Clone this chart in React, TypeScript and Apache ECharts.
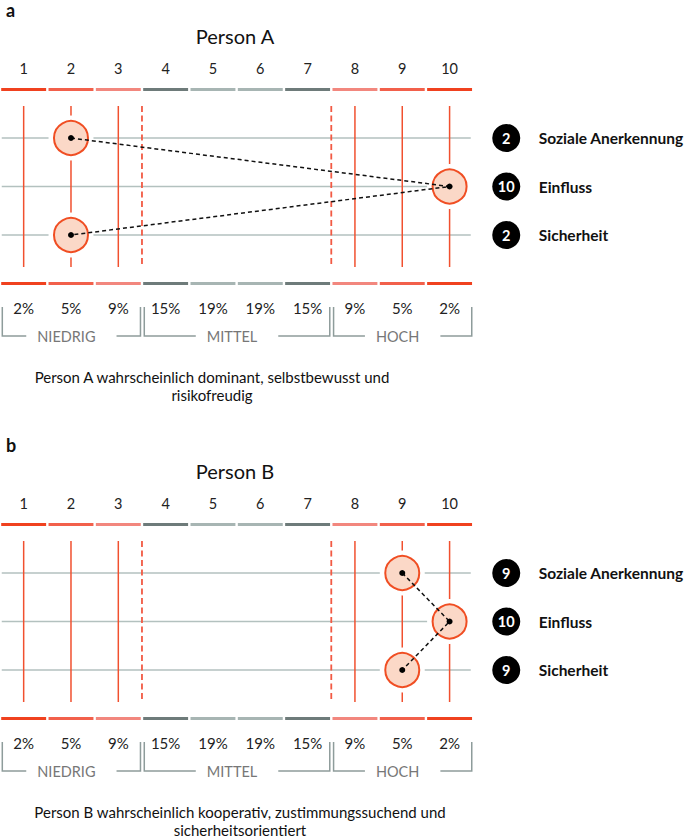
import React, { useEffect, useRef } from "react";
import * as echarts from "echarts";

// ---------- data ----------
const scaleLabels = ["1", "2", "3", "4", "5", "6", "7", "8", "9", "10"];
const shareLabels = ["2%", "5%", "9%", "15%", "19%", "19%", "15%", "9%", "5%", "2%"];
const traits = ["Soziale Anerkennung", "Einfluss", "Sicherheit"];
const personAScores = [2, 10, 2];
const personBScores = [9, 10, 9];
const bandNames = ["NIEDRIG", "MITTEL", "HOCH"];
const bandFrom = [1, 4, 8];
const bandTo = [3, 7, 10];
const linedColumns = [1, 2, 3, 8, 9, 10];
const titles = ["Person A", "Person B"];
const captions = [
  "Person A wahrscheinlich dominant, selbstbewusst und\nrisikofreudig",
  "Person B wahrscheinlich kooperativ, zustimmungssuchend und\nsicherheitsorientiert",
];
const panelLetters = ["a", "b"];

// ---------- styles ----------
const FONT = "Lato, 'Noto Sans', sans-serif";
const segmentPalette = [
  "#f0411f", "#f2604b", "#f2877e", "#6e7b7a", "#a7b5b3",
  "#a7b5b3", "#6e7b7a", "#f2877e", "#f2604b", "#f0411f",
];
const RED = "#f04e23";
const PANEL_DY = 435;

let measureCtx: CanvasRenderingContext2D | null = null;
function textWidth(t: string, font: string) {
  if (!measureCtx) measureCtx = document.createElement("canvas").getContext("2d");
  if (!measureCtx) return t.length * 7;
  measureCtx.font = font;
  return measureCtx.measureText(t).width;
}

function buildOption() {
  const grid: any[] = [];
  const xAxis: any[] = [];
  const yAxis: any[] = [];
  const series: any[] = [];
  const graphic: any[] = [];
  const scoresList = [personAScores, personBScores];

  [0, 1].forEach((p) => {
    grid.push({ left: -1.75, width: 475, top: 89.5 + p * PANEL_DY, height: 194 });
    xAxis.push({
      type: "category", gridIndex: p, data: scaleLabels, position: "top",
      axisLine: { show: false }, axisTick: { show: false }, splitLine: { show: false },
      axisLabel: { margin: 14, fontSize: 14.5, color: "#222", fontFamily: FONT },
    });
    xAxis.push({
      type: "category", gridIndex: p, data: shareLabels, position: "bottom",
      axisLine: { show: false }, axisTick: { show: false }, splitLine: { show: false },
      axisLabel: { margin: 16.5, fontSize: 15, color: "#222", fontFamily: FONT },
    });
    yAxis.push({ type: "value", gridIndex: p, min: -1, max: 3, inverse: true, show: false });

    const xi = p * 2;
    const yi = p;
    const scores = scoresList[p];
    const pts = scores.map((s, r) => [s - 1, r]);

    // colored segments top & bottom
    series.push({
      type: "custom", xAxisIndex: xi, yAxisIndex: yi, z: 1, silent: true,
      data: scaleLabels.map((_, i) => [i, 0]),
      renderItem: (params: any, api: any) => {
        const i = api.value(0);
        const top = api.coord([i, -1]);
        const bot = api.coord([i, 3]);
        const w = api.size([1, 0])[0];
        const c = segmentPalette[i];
        return {
          type: "group",
          children: [
            { type: "rect", shape: { x: top[0] - w / 2 + 1.2, y: top[1] - 1.5, width: w - 2.4, height: 3 }, style: { fill: c } },
            { type: "rect", shape: { x: bot[0] - w / 2 + 1.2, y: bot[1] - 1.5, width: w - 2.4, height: 3 }, style: { fill: c } },
          ],
        };
      },
    });

    // horizontal row lines
    series.push({
      type: "custom", xAxisIndex: xi, yAxisIndex: yi, z: 1, silent: true,
      data: traits.map((_, r) => [0, r]),
      renderItem: (params: any, api: any) => {
        const r = api.value(1);
        const w = api.size([1, 0])[0];
        const a = api.coord([0, r]);
        const b = api.coord([scaleLabels.length - 1, r]);
        return {
          type: "line",
          shape: { x1: a[0] - w / 2 + 1.75, y1: a[1], x2: b[0] + w / 2 - 2.5, y2: b[1] },
          style: { stroke: "#b3c1bf", lineWidth: 1.5 },
        };
      },
    });

    // vertical red lines
    series.push({
      type: "custom", xAxisIndex: xi, yAxisIndex: yi, z: 1, silent: true,
      data: linedColumns.map((c) => [c - 1, 0]),
      renderItem: (params: any, api: any) => {
        const i = api.value(0);
        const a = api.coord([i, -0.66]);
        const b = api.coord([i, 2.66]);
        return {
          type: "line",
          shape: { x1: a[0], y1: a[1], x2: b[0], y2: b[1] },
          style: { stroke: "#f1502f", lineWidth: 1.5 },
        };
      },
    });

    // dashed band boundaries
    series.push({
      type: "custom", xAxisIndex: xi, yAxisIndex: yi, z: 1, silent: true,
      data: bandTo.slice(0, -1).map((t) => [t - 1, 0]),
      renderItem: (params: any, api: any) => {
        const i = api.value(0);
        const a = api.coord([i, -0.66]);
        const a2 = api.coord([i + 1, -0.66]);
        const b = api.coord([i, 2.66]);
        const x = (a[0] + a2[0]) / 2;
        return {
          type: "line",
          shape: { x1: x, y1: a[1], x2: x, y2: b[1] },
          style: { stroke: "#f25a44", lineWidth: 1.8, lineDash: [6, 3.5] },
        };
      },
    });

    // white halo
    series.push({
      type: "scatter", xAxisIndex: xi, yAxisIndex: yi, z: 3, silent: true,
      symbol: "circle", symbolSize: 45, data: pts,
      itemStyle: { color: "#ffffff", opacity: 1 },
    });
    // circles
    series.push({
      type: "scatter", xAxisIndex: xi, yAxisIndex: yi, z: 4, silent: true,
      symbol: "circle", symbolSize: 34, data: pts,
      itemStyle: { color: "#fbd8c7", borderColor: RED, borderWidth: 2, opacity: 1 },
    });
    // dashed connection with dots
    series.push({
      type: "line", xAxisIndex: xi, yAxisIndex: yi, z: 5, silent: true,
      data: pts, symbol: "circle", symbolSize: 6, showSymbol: true,
      lineStyle: { color: "#111", width: 1.5, type: [4, 3] },
      itemStyle: { color: "#000" },
    });

    // legend on the right
    series.push({
      type: "custom", xAxisIndex: xi, yAxisIndex: yi, z: 6, silent: true,
      data: scores.map((s, r) => [scaleLabels.length - 1, r]),
      renderItem: (params: any, api: any) => {
        const r = params.dataIndex;
        const w = api.size([1, 0])[0];
        const c = api.coord([scaleLabels.length - 1, r]);
        const x0 = c[0] + w / 2;
        return {
          type: "group",
          children: [
            { type: "circle", shape: { cx: x0 + 33, cy: c[1], r: 14 }, style: { fill: "#000" } },
            {
              type: "text", x: x0 + 33, y: c[1],
              style: { text: String(scores[r]), fill: "#fff", font: `bold 14.5px ${FONT}`, align: "center", verticalAlign: "middle" },
            },
            {
              type: "text", x: x0 + 65.5, y: c[1],
              style: { text: traits[r], fill: "#111", font: `bold 15.5px ${FONT}`, align: "left", verticalAlign: "middle" },
            },
          ],
        };
      },
    });

    // brackets
    series.push({
      type: "custom", xAxisIndex: xi, yAxisIndex: yi, z: 1, silent: true,
      data: bandNames.map((_, g) => [bandFrom[g] - 1, 0]),
      renderItem: (params: any, api: any) => {
        const g = params.dataIndex;
        const w = api.size([1, 0])[0];
        const base = api.coord([0, 3])[1];
        const left = api.coord([bandFrom[g] - 1, 3])[0] - w / 2 + 2.3;
        const right = api.coord([bandTo[g] - 1, 3])[0] + w / 2 - 1.5;
        const yTop = base + 23.5;
        const yBot = base + 52.5;
        const mid = (left + right) / 2;
        const font = `14.5px ${FONT}`;
        const half = textWidth(bandNames[g], font) / 2 + 16;
        const st = { stroke: "#8e9c9b", lineWidth: 1.5, fill: "none" };
        return {
          type: "group",
          children: [
            { type: "polyline", shape: { points: [[left, yTop], [left, yBot], [mid - half, yBot]] }, style: st },
            { type: "polyline", shape: { points: [[mid + half, yBot], [right, yBot], [right, yTop]] }, style: st },
            {
              type: "text", x: mid - 5, y: yBot,
              style: { text: bandNames[g], fill: "#777", font, align: "center", verticalAlign: "middle" },
            },
          ],
        };
      },
    });

    // texts
    const dy = p * PANEL_DY;
    graphic.push({
      type: "text", left: 6, top: 1 + dy,
      style: { text: panelLetters[p], fill: "#111", font: `bold 18px ${FONT}` },
    });
    graphic.push({
      type: "text", x: 235, y: 36 + dy,
      style: { text: titles[p], fill: "#111", font: `20px ${FONT}`, align: "center", verticalAlign: "middle" },
    });
    graphic.push({
      type: "text", x: p === 0 ? 212 : 240, y: 368 + dy,
      style: { text: captions[p], fill: "#111", font: `15px ${FONT}`, align: "center", verticalAlign: "top", lineHeight: 18 },
    });
  });

  return { animation: false, backgroundColor: "#ffffff", grid, xAxis, yAxis, series, graphic };
}

export default function App() {
  const ref = useRef<HTMLDivElement>(null);
  useEffect(() => {
    if (!ref.current) return;
    const chart = echarts.init(ref.current, undefined, { renderer: "svg" });
    chart.setOption(buildOption() as any);
    return () => chart.dispose();
  }, []);
  return (
    <div
      ref={ref}
      style={{ position: "absolute", left: 0, top: 0, width: 685, height: 839, background: "#fff" }}
    />
  );
}
